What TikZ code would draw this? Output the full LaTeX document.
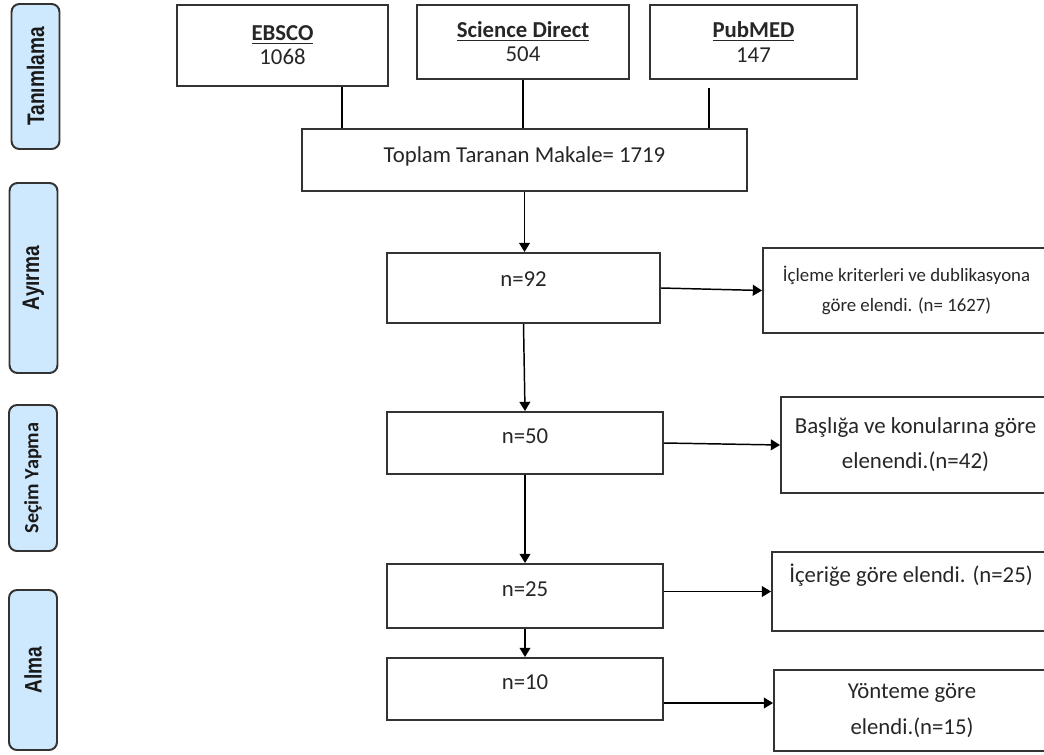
\documentclass[tikz,border=0pt]{standalone}
\usepackage{fontspec}
\setmainfont{Carlito}
\newfontfamily\narrowsans[FakeStretch=0.8]{Liberation Sans}
\usetikzlibrary{arrows.meta}
\definecolor{phaseblue}{RGB}{206,233,253}
\definecolor{boxline}{RGB}{51,51,51}
\pgfdeclarelayer{bg}
\pgfsetlayers{bg,main}

\begin{document}
\begin{tikzpicture}[
        plainbox/.style={draw=boxline, line width=1.4pt, inner sep=0pt, text=black!85, align=center, font=\fontsize{16.2}{17.1}\selectfont},
        nbox/.style={plainbox, minimum width=6.9cm, text depth=0.35cm},
        phasebox/.style={draw=boxline, line width=1.4pt, fill=phaseblue, rounded corners=0.2cm, rotate=90, minimum height=1.2cm, inner sep=0pt, text=black!90, font=\narrowsans\bfseries\fontsize{17}{19}\selectfont},
        joinline/.style={line width=1.05pt},
        flowarrow/.style={line width=1.05pt, -{Triangle[length=0.23cm,width=0.27cm]}}
]
        \useasboundingbox (0cm, 0cm) rectangle (26.1cm, -18.85cm);
        % phases
        \node (v12) [phasebox, minimum width=3.625cm] at (0.8875cm, -1.9125cm) {Tanımlama};
        \node (v13) [phasebox, minimum width=4.75cm] at (0.8375cm, -6.95cm) {Ayırma};
        \node (v14) [phasebox, minimum width=3.65cm, font=\bfseries\fontsize{14.4}{17}\selectfont] at (0.825cm, -11.95cm) {Seçim Yapma};
        \node (v15) [phasebox, minimum width=4cm] at (0.825cm, -16.75cm) {Alma};
        % databases
        \node (v0) [plainbox, minimum width=5.275cm, minimum height=2.025cm] at (7.0625cm, -1.1375cm) {\underline{\textbf{EBSCO}}\\1068};
        \node (v1) [plainbox, minimum width=5.3cm, minimum height=1.85cm] at (13.075cm, -1.05cm) {\underline{\textbf{Science Direct}}\\504};
        \node (v2) [plainbox, minimum width=5.175cm, minimum height=1.85cm] at (18.8375cm, -1.05cm) {\underline{\textbf{PubMED}}\\147};
        \node (v3) [plainbox, minimum width=11.125cm, minimum height=1.55cm, text depth=0.25cm] at (13.1125cm, -4.0cm) {Toplam Taranan Makale= 1719};
        % screening
        \node (v4) [nbox, minimum width=6.825cm, minimum height=1.75cm, text depth=0.45cm] at (13.0875cm, -7.2cm) {n=92};
        \node (v5) [nbox, minimum height=1.55cm] at (13.125cm, -11.075cm) {n=50};
        \node (v6) [nbox, minimum height=1.6cm] at (13.125cm, -14.9cm) {n=25};
        \node (v7) [nbox, minimum height=1.55cm] at (13.125cm, -17.225cm) {n=10};
        % excluded
        \node (v8) [plainbox, minimum width=7.175cm, minimum height=2.125cm, font=\fontsize{13.4}{21.3}\selectfont] at (22.6625cm, -7.2625cm) {İçleme kriterleri ve dublikasyona\\göre elendi. (n= 1627)};
        \node (v9) [plainbox, minimum width=6.725cm, minimum height=2.4cm, font=\fontsize{16.3}{24.9}\selectfont] at (22.8875cm, -11.125cm) {Başlığa ve konularına göre\\elenendi.(n=42)};
        \node (v10) [plainbox, minimum width=6.95cm, minimum height=1.975cm, text depth=0.9cm] at (22.775cm, -14.7875cm) {İçeriğe göre elendi. (n=25)};
        \node (v11) [plainbox, minimum width=6.9cm, minimum height=2.025cm, font=\fontsize{16.2}{25.6}\selectfont] at (22.8cm, -17.7625cm) {Yönteme göre\\elendi.(n=15)};
        \begin{pgfonlayer}{bg}
                \draw ([xshift=1.4875cm]v0.south) edge [joinline] ([xshift=1.4875cm]v0.south |- v3.north);
                \draw (v1.south) edge [joinline] (v1.south |- v3.north);
                \draw ([xshift=-1.1125cm, yshift=-0.2cm]v2.south) edge [joinline] ([xshift=-1.1125cm]v2.south |- v3.north);
                \draw (v3.south) edge [flowarrow] (v3.south |- v4.north);
                \draw (v4.south) edge [flowarrow] (v5.north);
                \draw (v5.south) edge [flowarrow] (v6.north);
                \draw (v6.south) edge [flowarrow] (v7.north);
                \draw (v4.east) edge [flowarrow] (v8.west);
                \draw (v5.east) edge [flowarrow] (v9.west);
                \draw (v6.east |- v10.west) edge [flowarrow] (v10.west);
                \draw ([yshift=-0.35cm]v7.east) edge [flowarrow] ([yshift=-0.35cm]v7.east -| v11.west);
        \end{pgfonlayer}
\end{tikzpicture}
\end{document}
